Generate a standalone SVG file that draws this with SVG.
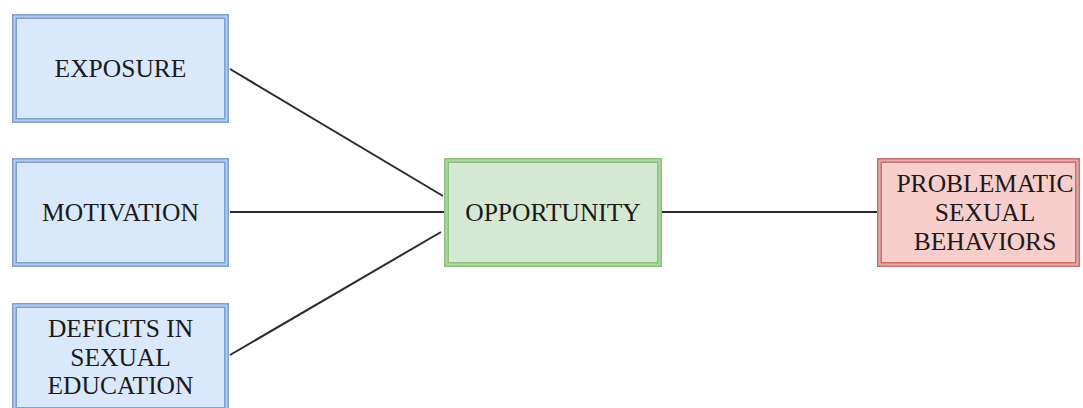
<svg xmlns="http://www.w3.org/2000/svg" width="1083" height="408" viewBox="0 0 1083 408">
<style>
  .edge { stroke: #2b2b2b; stroke-width: 2; fill: none; }
  .b-mid { fill: #dae8fc; stroke: #b4cbee; stroke-width: 4; }
  .b-line { fill: none; stroke: #7f9fd0; stroke-width: 1.5; }
  .g-mid { fill: #d5e8d4; stroke: #b0d6a2; stroke-width: 4; }
  .g-line { fill: none; stroke: #8cc27a; stroke-width: 1.5; }
  .r-mid { fill: #f8cecc; stroke: #e5a9a8; stroke-width: 4; }
  .r-line { fill: none; stroke: #c8706e; stroke-width: 1.5; }
</style>
<rect width="1083" height="408" fill="#ffffff"/>
<g id="connectors">
  <line class="edge" x1="230" y1="69" x2="443" y2="196"/>
  <line class="edge" x1="230" y1="212" x2="444" y2="212"/>
  <line class="edge" x1="230" y1="355" x2="441" y2="232"/>
  <line class="edge" x1="662" y1="212" x2="877" y2="212"/>
</g>
<g id="exposure">
  <rect class="b-mid" x="14" y="16" width="213" height="105"/>
  <rect class="b-line" x="12.75" y="14.75" width="215.5" height="107.5"/>
  <rect class="b-line" x="16.25" y="18.25" width="208.5" height="100.5"/>
  <text x="120.5" y="77" font-family="Liberation Serif, serif" font-size="25.5" fill="#1a1a1a" text-anchor="middle">EXPOSURE</text>
</g>
<g id="motivation">
  <rect class="b-mid" x="14" y="160" width="213" height="105"/>
  <rect class="b-line" x="12.75" y="158.75" width="215.5" height="107.5"/>
  <rect class="b-line" x="16.25" y="162.25" width="208.5" height="100.5"/>
  <text x="120.5" y="221" font-family="Liberation Serif, serif" font-size="25.5" fill="#1a1a1a" text-anchor="middle">MOTIVATION</text>
</g>
<g id="deficits">
  <rect class="b-mid" x="14" y="305" width="213" height="105"/>
  <rect class="b-line" x="12.75" y="303.75" width="215.5" height="107.5"/>
  <rect class="b-line" x="16.25" y="307.25" width="208.5" height="100.5"/>
  <text x="120.5" y="337" font-family="Liberation Serif, serif" font-size="25.5" fill="#1a1a1a" text-anchor="middle">DEFICITS IN</text>
  <text x="120.5" y="366" font-family="Liberation Serif, serif" font-size="25.5" fill="#1a1a1a" text-anchor="middle">SEXUAL</text>
  <text x="120.5" y="394" font-family="Liberation Serif, serif" font-size="25.5" fill="#1a1a1a" text-anchor="middle">EDUCATION</text>
</g>
<g id="opportunity">
  <rect class="g-mid" x="446" y="160" width="214" height="105"/>
  <rect class="g-line" x="444.75" y="158.75" width="216.5" height="107.5"/>
  <rect class="g-line" x="448.25" y="162.25" width="209.5" height="100.5"/>
  <text x="553" y="221" font-family="Liberation Serif, serif" font-size="25.5" fill="#1a1a1a" text-anchor="middle">OPPORTUNITY</text>
</g>
<g id="problematic">
  <rect class="r-mid" x="879" y="160" width="199" height="105"/>
  <rect class="r-line" x="877.75" y="158.75" width="201.5" height="107.5"/>
  <rect class="r-line" x="881.25" y="162.25" width="194.5" height="100.5"/>
  <text x="985" y="192" font-family="Liberation Serif, serif" font-size="25.5" fill="#1a1a1a" text-anchor="middle">PROBLEMATIC</text>
  <text x="985" y="221" font-family="Liberation Serif, serif" font-size="25.5" fill="#1a1a1a" text-anchor="middle">SEXUAL</text>
  <text x="985" y="250" font-family="Liberation Serif, serif" font-size="25.5" fill="#1a1a1a" text-anchor="middle">BEHAVIORS</text>
</g>
</svg>
